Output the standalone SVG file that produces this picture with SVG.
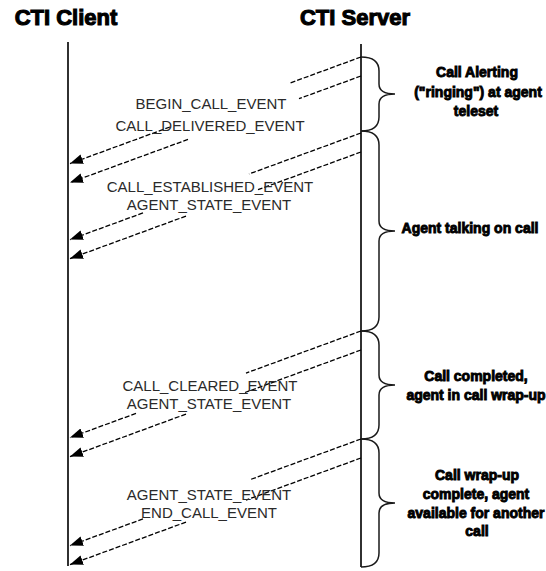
<svg xmlns="http://www.w3.org/2000/svg" width="546" height="571" viewBox="0 0 546 571">
<defs>
<style>
.title{font-family:"Liberation Sans",Arial,sans-serif;font-weight:bold;font-size:22px;fill:#000;stroke:#000;stroke-width:1.1;text-anchor:middle}
.ev{font-family:"Liberation Sans",Arial,sans-serif;font-size:15px;fill:#2a2a2a;text-anchor:middle}
.lbl{font-family:"Liberation Sans",Arial,sans-serif;font-weight:bold;font-size:14px;fill:#000;stroke:#000;stroke-width:0.9;text-anchor:middle}
.life{stroke:#1a1a1a;stroke-width:1.8;fill:none}
.msg{stroke:#000;stroke-width:1.3;stroke-dasharray:5 2;fill:none}
.brace{stroke:#1a1a1a;stroke-width:1.5;fill:none}
</style>
<marker id="ah" markerWidth="14" markerHeight="10" refX="13" refY="5" orient="auto" markerUnits="userSpaceOnUse">
<path d="M0,0 L13,5 L0,10 z" fill="#000"/>
</marker>
</defs>
<rect width="546" height="571" fill="#fff"/>
<g id="client">
<text class="title" x="66" y="25">CTI Client</text>
<line class="life" x1="68" y1="42" x2="68" y2="566"/>
</g>
<g id="server">
<text class="title" x="355" y="25">CTI Server</text>
<line class="life" x1="361" y1="44" x2="361" y2="567"/>
</g>
<g id="connectors">
<line class="msg" x1="361" y1="57" x2="289" y2="83.4"/>
<line class="msg" x1="170" y1="127" x2="70" y2="163.6" marker-end="url(#ah)"/>
<line class="msg" x1="361" y1="76" x2="299" y2="98.7"/>
<line class="msg" x1="188" y1="139.4" x2="70" y2="182.6" marker-end="url(#ah)"/>
<line class="msg" x1="361" y1="133" x2="249" y2="174"/>
<line class="msg" x1="143" y1="212.9" x2="70" y2="239.6" marker-end="url(#ah)"/>
<line class="msg" x1="361" y1="152" x2="258" y2="189.7"/>
<line class="msg" x1="186" y1="216.1" x2="70" y2="258.6" marker-end="url(#ah)"/>
<line class="msg" x1="361" y1="331" x2="246" y2="373.1"/>
<line class="msg" x1="136" y1="413.4" x2="70" y2="437.6" marker-end="url(#ah)"/>
<line class="msg" x1="361" y1="350" x2="245" y2="392.5"/>
<line class="msg" x1="186" y1="414.1" x2="70" y2="456.6" marker-end="url(#ah)"/>
<line class="msg" x1="361" y1="439" x2="251" y2="479.3"/>
<line class="msg" x1="143" y1="518.9" x2="70" y2="545.6" marker-end="url(#ah)"/>
<line class="msg" x1="361" y1="458" x2="246" y2="500.1"/>
<line class="msg" x1="186" y1="522.1" x2="70" y2="564.6" marker-end="url(#ah)"/>
</g>
<g id="events1">
<text class="ev" x="211" y="109">BEGIN_CALL_EVENT</text>
<text class="ev" x="210" y="131">CALL_DELIVERED_EVENT</text>
</g>
<g id="events2">
<text class="ev" x="210" y="192">CALL_ESTABLISHED_EVENT</text>
<text class="ev" x="209" y="210">AGENT_STATE_EVENT</text>
</g>
<g id="events3">
<text class="ev" x="210" y="391">CALL_CLEARED_EVENT</text>
<text class="ev" x="209" y="409">AGENT_STATE_EVENT</text>
</g>
<g id="events4">
<text class="ev" x="209" y="500">AGENT_STATE_EVENT</text>
<text class="ev" x="209" y="518">END_CALL_EVENT</text>
</g>
<g id="phase1">
<path class="brace" d="M361,57 C372,57 379,61 379,71 L379,84 C379,91 384,94 395,94 C384,94 379,97 379,104 L379,117 C379,127 372,131 361,131"/>
<text class="lbl" x="477" y="77">Call Alerting</text>
<text class="lbl" x="478" y="97">("ringing") at agent</text>
<text class="lbl" x="476" y="116">teleset</text>
</g>
<g id="phase2">
<path class="brace" d="M361,131 C372,131 379,135 379,145 L379,221 C379,228 384,231 395,231 C384,231 379,234 379,241 L379,317 C379,327 372,331 361,331"/>
<text class="lbl" x="470" y="233">Agent talking on call</text>
</g>
<g id="phase3">
<path class="brace" d="M361,331 C372,331 379,335 379,345 L379,375 C379,382 384,385 395,385 C384,385 379,388 379,395 L379,425 C379,435 372,439 361,439"/>
<text class="lbl" x="476" y="381">Call completed,</text>
<text class="lbl" x="476" y="400">agent in call wrap-up</text>
</g>
<g id="phase4">
<path class="brace" d="M361,439 C372,439 379,443 379,453 L379,493 C379,500 384,503 395,503 C384,503 379,506 379,513 L379,553 C379,563 372,567 361,567"/>
<text class="lbl" x="477" y="480">Call wrap-up</text>
<text class="lbl" x="476" y="499">complete, agent</text>
<text class="lbl" x="476" y="518">available for another</text>
<text class="lbl" x="477" y="536">call</text>
</g>
</svg>
